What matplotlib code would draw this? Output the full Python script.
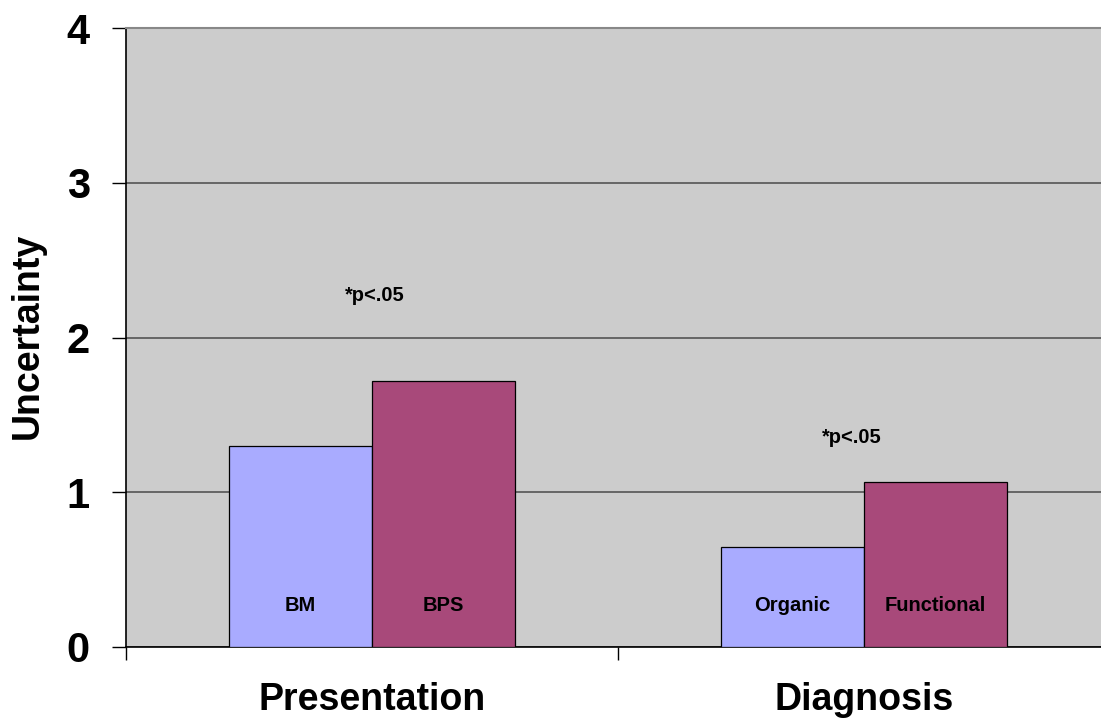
import matplotlib.pyplot as plt
import numpy as np

plt.rcParams['font.family'] = ['Liberation Sans', 'DejaVu Sans']
plt.rcParams['font.weight'] = 'bold'

# data
categories = ['Presentation', 'Diagnosis']
first_labels = ['BM', 'Organic']
second_labels = ['BPS', 'Functional']
first_values = [1.30, 0.643]
second_values = [1.72, 1.066]
sig_labels = ['*p<.05', '*p<.05']
sig_pos = [(0.506, 2.27), (1.476, 1.355)]

blue = '#A9ABFF'
maroon = '#A8497A'

fig = plt.figure(figsize=(11.01, 7.24), dpi=100)
ax = fig.add_axes([126 / 1101, 77 / 724, 984 / 1101, 619 / 724])
ax.set_facecolor('#CCCCCC')

x = np.arange(len(categories)) + 0.5
w = 0.29
ax.bar(x - w / 2, first_values, w, color=blue, edgecolor='black', linewidth=0.9, zorder=3)
ax.bar(x + w / 2, second_values, w, color=maroon, edgecolor='black', linewidth=0.9, zorder=3)

for xi, a, b in zip(x, first_labels, second_labels):
    ax.text(xi - w / 2, 0.27, a, ha='center', va='center', fontsize=14.5, fontweight='bold', zorder=4)
    ax.text(xi + w / 2, 0.27, b, ha='center', va='center', fontsize=14.5, fontweight='bold', zorder=4)

for lab, (px, py) in zip(sig_labels, sig_pos):
    ax.text(px, py, lab, ha='center', va='center', fontsize=14.5, fontweight='bold')

ax.set_xlim(0, 2)
ax.set_ylim(0, 4)
ax.set_yticks([0, 1, 2, 3, 4])
ax.yaxis.grid(True, color='#555555', linewidth=1.2)
ax.set_axisbelow(True)
ax.tick_params(axis='y', direction='out', length=10, width=1, pad=16, labelsize=30)
for t in ax.get_yticklabels():
    t.set_fontweight('bold')

ax.set_xticks([0, 1, 2])
ax.set_xticklabels([])
ax.set_xticks(x, minor=True)
ax.set_xticklabels(categories, minor=True, fontsize=27, fontweight='bold')
ax.tick_params(axis='x', which='major', direction='out', length=9, width=1)
ax.tick_params(axis='x', which='minor', length=0, pad=25)

for s in ['left', 'bottom']:
    ax.spines[s].set_color('black')
    ax.spines[s].set_linewidth(1.2)
ax.spines['top'].set_color('#888888')
ax.spines['top'].set_linewidth(1.5)
ax.spines['right'].set_visible(False)

fig.text(28 / 1101, (724 - 336) / 724, 'Uncertainty', rotation=90, ha='center', va='center',
         fontsize=27, fontweight='bold')

fig.savefig('out.png', dpi=100)
